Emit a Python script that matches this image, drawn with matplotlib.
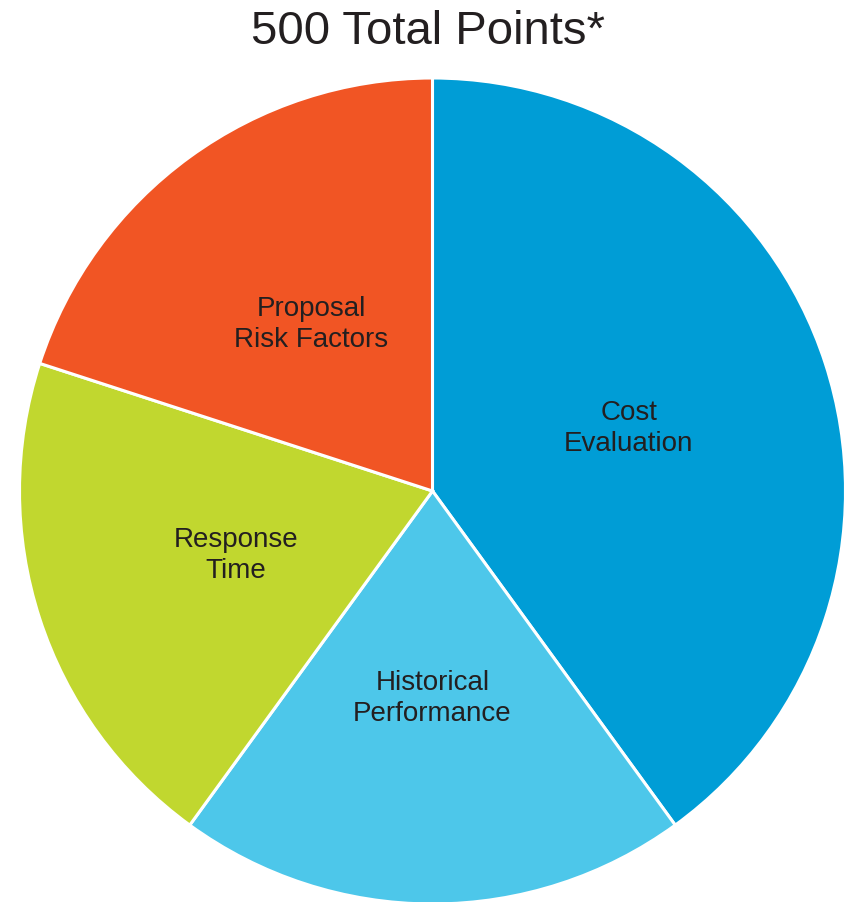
import matplotlib
matplotlib.use("Agg")
import matplotlib.pyplot as plt

categories = ["Cost\nEvaluation", "Historical\nPerformance", "Response\nTime", "Proposal\nRisk Factors"]
points = [200, 100, 100, 100]
colors = ["#009DD6", "#4DC7EA", "#C1D72F", "#F15524"]
title = "500 Total Points*"

plt.rcParams['font.family'] = ['Liberation Sans', 'DejaVu Sans']

W, H, dpi = 846, 903, 100
fig = plt.figure(figsize=(W / dpi, H / dpi), dpi=dpi)
cx, cy, r = 432.5, 492, 413
ax = fig.add_axes([(cx - r) / W, (H - cy - r) / H, 2 * r / W, 2 * r / H])
wedges, texts = ax.pie(points, labels=categories, colors=colors, startangle=90,
                       counterclock=False, labeldistance=0.5, radius=1,
                       wedgeprops=dict(edgecolor="white", linewidth=2.2),
                       textprops=dict(fontsize=20, color="#231F20"))
for t in texts:
    t.set_ha("center")
    t.set_va("center")
    t.set_linespacing(1.25)
ax.set_xlim(-1, 1)
ax.set_ylim(-1, 1)
ax.set_aspect("auto")
ax.axis("off")
fig.text(428 / W, 1 - 44 / H, title, ha="center", va="baseline", fontsize=34, color="#231F20")
fig.savefig("out.png", dpi=dpi)
